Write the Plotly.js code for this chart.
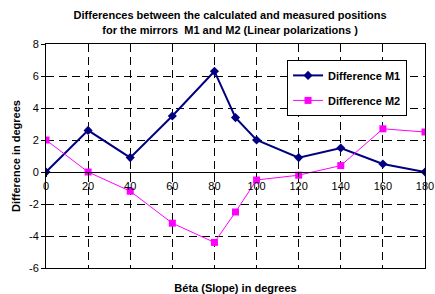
<!DOCTYPE html>
<html>
<head>
<meta charset="utf-8">
<script src="https://cdn.plot.ly/plotly-3.0.1.min.js"></script>
<style>html,body{margin:0;padding:0;background:#fff}#chart{width:435px;height:294px}</style>
</head>
<body>
<div id="chart"></div>
<script>
const beta = [0, 20, 40, 60, 80, 90, 100, 120, 140, 160, 180];
const diffM1 = [0, 2.6, 0.9, 3.5, 6.3, 3.4, 2.0, 0.9, 1.5, 0.5, 0];
const diffM2 = [2.0, 0, -1.2, -3.2, -4.4, -2.5, -0.5, -0.2, 0.4, 2.7, 2.5];
const xTickVals = [0, 20, 40, 60, 80, 100, 120, 140, 160, 180];
const xTickText = ["0", "20", "40", "60", "80", "100", "120", "140", "160", "180"];
const yTickVals = [-6, -4, -2, 0, 2, 4, 6, 8];
const yTickText = ["-6", "-4", "-2", "0", "2", "4", "6", "8"];

const FONT = "Arial, 'Liberation Sans', sans-serif";

const traces = [
  {
    x: beta, y: diffM1, name: "Difference M1", type: "scatter", mode: "lines+markers",
    xaxis: "x", yaxis: "y", legendgroup: "m1",
    line: {color: "#000080", width: 2},
    marker: {symbol: "diamond", size: 7, color: "#000080"}
  },
  {
    x: beta, y: diffM2, name: "Difference M2", type: "scatter", mode: "lines+markers",
    xaxis: "x2", yaxis: "y", legendgroup: "m2",
    line: {color: "#FF00FF", width: 1},
    marker: {symbol: "square", size: 7, color: "#FF00FF"}
  }
];

const layout = {
  width: 435, height: 294,
  margin: {l: 46, r: 10, t: 44, b: 26},
  paper_bgcolor: "#fff", plot_bgcolor: "#fff",
  font: {family: FONT, size: 11, color: "#000"},
  showlegend: true,
  title: {
    text: "<b>Differences between the calculated and measured positions<br>for the mirrors  M1 and M2 (Linear polarizations )</b>",
    font: {family: FONT, size: 11, color: "#000"},
    x: 0.529, xref: "container", xanchor: "center",
    y: 0.934, yref: "container", yanchor: "top"
  },
  xaxis: {
    range: [0, 180], tickvals: xTickVals, showticklabels: false, ticks: "",
    showgrid: true, gridcolor: "#000", gridwidth: 1, griddash: "8px,5px",
    zeroline: false, showline: true, linecolor: "#000", linewidth: 1, mirror: true,
    title: {text: "<b>Béta (Slope) in degrees</b>", font: {family: FONT, size: 11}, standoff: 24},
    automargin: false, fixedrange: true
  },
  xaxis2: {
    overlaying: "x", anchor: "free", position: 6/14,
    range: [0, 180], tickvals: xTickVals, ticktext: xTickText,
    ticks: "outside", ticklen: 4, tickcolor: "#000",
    tickfont: {family: FONT, size: 11, color: "#000"},
    showgrid: false, zeroline: false, showline: true, linecolor: "#000", linewidth: 1,
    automargin: false, fixedrange: true
  },
  yaxis: {
    range: [-6, 8], tickvals: yTickVals, ticktext: yTickText,
    ticks: "outside", ticklen: 4, tickcolor: "#000",
    tickfont: {family: FONT, size: 11, color: "#000"},
    showgrid: true, gridcolor: "#000", gridwidth: 1, griddash: "8px,5px",
    zeroline: false, showline: true, linecolor: "#000", linewidth: 1, mirror: true,
    title: {text: "<b>Difference in degrees</b>", font: {family: FONT, size: 11}, standoff: 6},
    automargin: false, fixedrange: true
  },
  legend: {
    x: 0.636, y: 0.929, xanchor: "left", yanchor: "top",
    bgcolor: "#fff", bordercolor: "#000", borderwidth: 1,
    font: {family: FONT, size: 11, color: "#000", weight: "bold"},
    itemwidth: 30, traceorder: "grouped", tracegroupgap: 6
  }
};

Plotly.newPlot("chart", traces, layout, {displayModeBar: false, staticPlot: true});
</script>
</body>
</html>
